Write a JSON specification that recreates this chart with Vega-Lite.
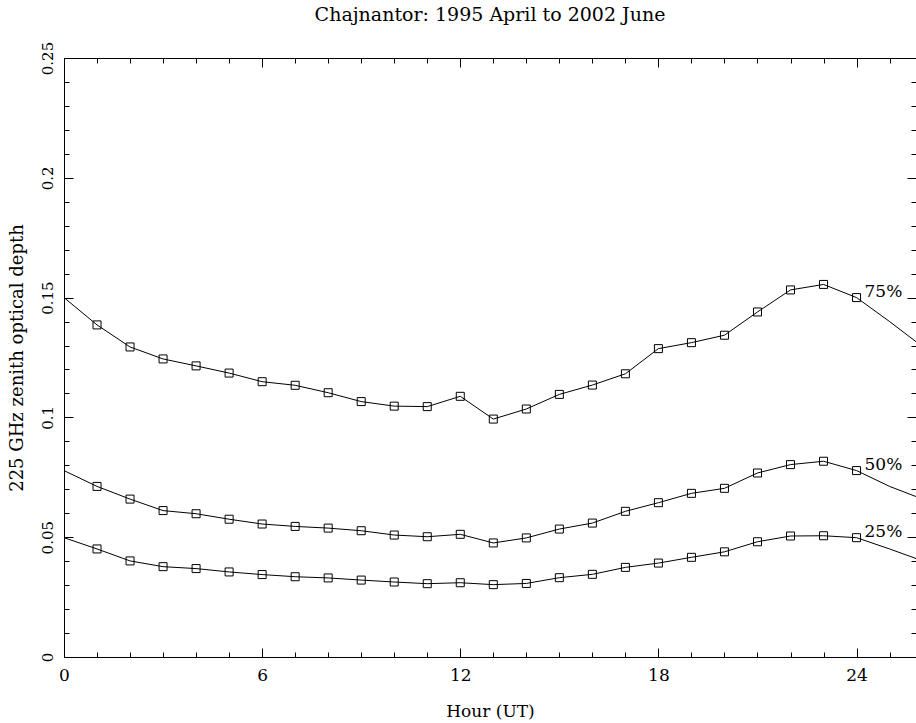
{
  "$schema": "https://vega.github.io/schema/vega-lite/v6.json",
  "width": 852,
  "height": 599,
  "autosize": {"type": "none"},
  "padding": {"left": 64, "top": 58, "right": 0, "bottom": 66},
  "background": "white",
  "title": {
    "text": "Chajnantor: 1995 April to 2002 June",
    "font": "DejaVu Serif",
    "fontSize": 19,
    "fontWeight": "normal",
    "color": "black",
    "anchor": "middle",
    "baseline": "alphabetic",
    "offset": 1
  },
  "config": {
    "view": {"stroke": "black", "strokeWidth": 1},
    "axis": {
      "domainColor": "black",
      "tickColor": "black",
      "labelColor": "black",
      "titleColor": "black",
      "labelFont": "DejaVu Serif",
      "titleFont": "DejaVu Serif",
      "labelFontSize": 17,
      "titleFontSize": 17,
      "titleFontWeight": "normal",
      "grid": false,
      "labelOverlap": false,
      "labelFlush": false,
      "labelBound": false
    }
  },
  "data": {
    "values": [
      {"hour": 0, "pct": "75%", "tau": 0.150},
      {"hour": 1, "pct": "75%", "tau": 0.1386},
      {"hour": 2, "pct": "75%", "tau": 0.1294},
      {"hour": 3, "pct": "75%", "tau": 0.1244},
      {"hour": 4, "pct": "75%", "tau": 0.1215},
      {"hour": 5, "pct": "75%", "tau": 0.1185},
      {"hour": 6, "pct": "75%", "tau": 0.1149},
      {"hour": 7, "pct": "75%", "tau": 0.1134},
      {"hour": 8, "pct": "75%", "tau": 0.1103},
      {"hour": 9, "pct": "75%", "tau": 0.1066},
      {"hour": 10, "pct": "75%", "tau": 0.1047},
      {"hour": 11, "pct": "75%", "tau": 0.1045},
      {"hour": 12, "pct": "75%", "tau": 0.1088},
      {"hour": 13, "pct": "75%", "tau": 0.0993},
      {"hour": 14, "pct": "75%", "tau": 0.1035},
      {"hour": 15, "pct": "75%", "tau": 0.1096},
      {"hour": 16, "pct": "75%", "tau": 0.1135},
      {"hour": 17, "pct": "75%", "tau": 0.1182},
      {"hour": 18, "pct": "75%", "tau": 0.1287},
      {"hour": 19, "pct": "75%", "tau": 0.1312},
      {"hour": 20, "pct": "75%", "tau": 0.1343},
      {"hour": 21, "pct": "75%", "tau": 0.1440},
      {"hour": 22, "pct": "75%", "tau": 0.1532},
      {"hour": 23, "pct": "75%", "tau": 0.1555},
      {"hour": 24, "pct": "75%", "tau": 0.1500},
      {"hour": 25, "pct": "75%", "tau": 0.1400},
      {"hour": 26, "pct": "75%", "tau": 0.1295},
      {"hour": 0, "pct": "50%", "tau": 0.0778},
      {"hour": 1, "pct": "50%", "tau": 0.0712},
      {"hour": 2, "pct": "50%", "tau": 0.0659},
      {"hour": 3, "pct": "50%", "tau": 0.0611},
      {"hour": 4, "pct": "50%", "tau": 0.0598},
      {"hour": 5, "pct": "50%", "tau": 0.0575},
      {"hour": 6, "pct": "50%", "tau": 0.0555},
      {"hour": 7, "pct": "50%", "tau": 0.0545},
      {"hour": 8, "pct": "50%", "tau": 0.0538},
      {"hour": 9, "pct": "50%", "tau": 0.0527},
      {"hour": 10, "pct": "50%", "tau": 0.0509},
      {"hour": 11, "pct": "50%", "tau": 0.0502},
      {"hour": 12, "pct": "50%", "tau": 0.0512},
      {"hour": 13, "pct": "50%", "tau": 0.0476},
      {"hour": 14, "pct": "50%", "tau": 0.0497},
      {"hour": 15, "pct": "50%", "tau": 0.0534},
      {"hour": 16, "pct": "50%", "tau": 0.0559},
      {"hour": 17, "pct": "50%", "tau": 0.0608},
      {"hour": 18, "pct": "50%", "tau": 0.0644},
      {"hour": 19, "pct": "50%", "tau": 0.0683},
      {"hour": 20, "pct": "50%", "tau": 0.0704},
      {"hour": 21, "pct": "50%", "tau": 0.0768},
      {"hour": 22, "pct": "50%", "tau": 0.0803},
      {"hour": 23, "pct": "50%", "tau": 0.0817},
      {"hour": 24, "pct": "50%", "tau": 0.0778},
      {"hour": 25, "pct": "50%", "tau": 0.0712},
      {"hour": 26, "pct": "50%", "tau": 0.0659},
      {"hour": 0, "pct": "25%", "tau": 0.0498},
      {"hour": 1, "pct": "25%", "tau": 0.0451},
      {"hour": 2, "pct": "25%", "tau": 0.0401},
      {"hour": 3, "pct": "25%", "tau": 0.0377},
      {"hour": 4, "pct": "25%", "tau": 0.0369},
      {"hour": 5, "pct": "25%", "tau": 0.0355},
      {"hour": 6, "pct": "25%", "tau": 0.0344},
      {"hour": 7, "pct": "25%", "tau": 0.0335},
      {"hour": 8, "pct": "25%", "tau": 0.0330},
      {"hour": 9, "pct": "25%", "tau": 0.0321},
      {"hour": 10, "pct": "25%", "tau": 0.0313},
      {"hour": 11, "pct": "25%", "tau": 0.0306},
      {"hour": 12, "pct": "25%", "tau": 0.0310},
      {"hour": 13, "pct": "25%", "tau": 0.0302},
      {"hour": 14, "pct": "25%", "tau": 0.0307},
      {"hour": 15, "pct": "25%", "tau": 0.0331},
      {"hour": 16, "pct": "25%", "tau": 0.0345},
      {"hour": 17, "pct": "25%", "tau": 0.0374},
      {"hour": 18, "pct": "25%", "tau": 0.0392},
      {"hour": 19, "pct": "25%", "tau": 0.0416},
      {"hour": 20, "pct": "25%", "tau": 0.0439},
      {"hour": 21, "pct": "25%", "tau": 0.0481},
      {"hour": 22, "pct": "25%", "tau": 0.0505},
      {"hour": 23, "pct": "25%", "tau": 0.0506},
      {"hour": 24, "pct": "25%", "tau": 0.0498},
      {"hour": 25, "pct": "25%", "tau": 0.0451},
      {"hour": 26, "pct": "25%", "tau": 0.0401}
    ]
  },
  "layer": [
    {
      "mark": {"type": "line", "color": "black", "strokeWidth": 1, "clip": true},
      "encoding": {
        "x": {
          "field": "hour", "type": "quantitative",
          "scale": {"domain": [0, 25.8], "nice": false, "zero": false},
          "axis": {
            "orient": "bottom",
            "title": "Hour (UT)",
            "values": [0,1,2,3,4,5,6,7,8,9,10,11,12,13,14,15,16,17,18,19,20,21,22,23,24,25],
            "labelExpr": "datum.value % 6 === 0 ? toString(datum.value) : ''",
            "tickSize": {"condition": {"test": "datum.value % 6 === 0", "value": -9}, "value": -5},
            "labelPadding": 19,
            "titlePadding": 16
          }
        },
        "y": {
          "field": "tau", "type": "quantitative",
          "scale": {"domain": [0, 0.25], "nice": false},
          "axis": {
            "orient": "left",
            "title": "225 GHz zenith optical depth",
            "values": [0,0.01,0.02,0.03,0.04,0.05,0.06,0.07,0.08,0.09,0.1,0.11,0.12,0.13,0.14,0.15,0.16,0.17,0.18,0.19,0.2,0.21,0.22,0.23,0.24,0.25],
            "labelExpr": "round(datum.value*100) % 5 === 0 ? toString(round(datum.value*100)/100) : ''",
            "tickSize": {"condition": {"test": "round(datum.value*100) % 5 === 0", "value": -9}, "value": -5},
            "labelAngle": -90,
            "labelAlign": "center",
            "labelBaseline": "alphabetic",
            "labelFontSize": 15,
            "labelPadding": 21,
            "titleAngle": -90,
            "titleBaseline": "alphabetic",
            "titleFontSize": 18,
            "titlePadding": 14
          }
        },
        "detail": {"field": "pct"}
      }
    },
    {
      "transform": [{"filter": "datum.hour >= 1 && datum.hour <= 24"}],
      "mark": {"type": "point", "shape": "square", "size": 64, "filled": false, "color": "black", "strokeWidth": 1, "opacity": 1},
      "encoding": {
        "x": {
          "field": "hour", "type": "quantitative",
          "axis": {
            "orient": "top",
            "title": null,
            "labels": false,
            "values": [0,1,2,3,4,5,6,7,8,9,10,11,12,13,14,15,16,17,18,19,20,21,22,23,24,25],
            "tickSize": {"condition": {"test": "datum.value % 6 === 0", "value": -9}, "value": -5}
          }
        },
        "y": {
          "field": "tau", "type": "quantitative",
          "axis": {
            "orient": "right",
            "title": null,
            "labels": false,
            "values": [0,0.01,0.02,0.03,0.04,0.05,0.06,0.07,0.08,0.09,0.1,0.11,0.12,0.13,0.14,0.15,0.16,0.17,0.18,0.19,0.2,0.21,0.22,0.23,0.24,0.25],
            "tickSize": {"condition": {"test": "round(datum.value*100) % 5 === 0", "value": -9}, "value": -5}
          }
        }
      }
    },
    {
      "transform": [{"filter": "datum.hour === 24"}],
      "mark": {"type": "text", "align": "left", "baseline": "middle", "dx": 8, "dy": -6, "font": "DejaVu Serif", "fontSize": 17, "color": "black"},
      "encoding": {
        "x": {"field": "hour", "type": "quantitative", "axis": null},
        "y": {"field": "tau", "type": "quantitative", "axis": null},
        "text": {"field": "pct"}
      }
    }
  ],
  "resolve": {"axis": {"x": "independent", "y": "independent"}}
}
